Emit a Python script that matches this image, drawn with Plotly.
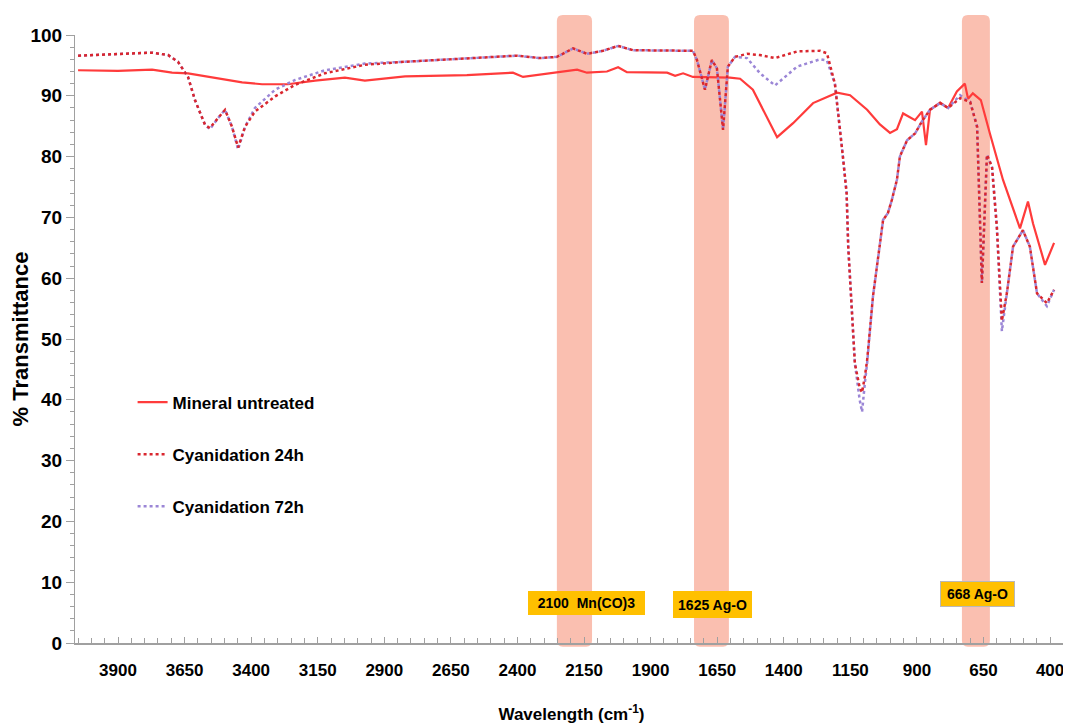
import plotly.graph_objects as go

# ---------------- data ----------------
wn_untreated = [4050, 3900, 3772, 3697, 3637, 3562, 3434, 3359, 3262, 3160, 3048, 2973, 2822, 2590,
                2417, 2379, 2342, 2267, 2176, 2139, 2064, 2022, 1989, 1838, 1808, 1778, 1741,
                1602, 1564, 1516, 1478, 1425, 1365, 1290, 1200, 1151, 1087, 1039, 1001, 975,
                952, 907, 881, 866, 851, 813, 783, 750, 720, 708, 690, 660, 626, 577, 513,
                483, 464, 419, 385]
t_untreated = [94.2, 94.1, 94.3, 93.8, 93.7, 93.1, 92.2, 91.9, 91.9, 92.5, 93.0, 92.5, 93.2, 93.4,
               93.8, 93.1, 93.3, 93.8, 94.3, 93.8, 94.0, 94.7, 93.9, 93.8, 93.3, 93.7, 93.1,
               93.0, 92.8, 91.0, 87.7, 83.2, 85.5, 88.8, 90.5, 90.1, 87.7, 85.3, 83.9, 84.5,
               87.1, 86.0, 87.4, 81.9, 87.7, 88.9, 88.0, 90.7, 92.0, 89.5, 90.4, 89.3, 83.8,
               76.2, 68.2, 72.6, 69.0, 62.2, 65.8]

wn_cyan24 = [4050, 3772, 3712, 3675, 3637, 3611, 3573, 3555, 3525, 3498, 3472, 3449, 3423, 3386,
             3310, 3235, 3123, 2973, 2822, 2590, 2402, 2315, 2252, 2191, 2139, 2079, 2022,
             1966, 1850, 1741, 1726, 1696, 1670, 1651, 1628, 1610, 1583, 1538, 1489, 1433,
             1350, 1264, 1238, 1208, 1178, 1164, 1158, 1145, 1133, 1115, 1106, 1095, 1087,
             1065, 1039, 1027, 1009, 994, 975, 964, 937, 907, 881, 851, 813, 783, 738, 700,
             674, 656, 637, 618, 600, 581, 562, 539, 502, 476, 449, 412, 385]
t_cyan24 = [96.6, 97.1, 96.7, 95.6, 93.1, 89.3, 85.2, 84.7, 86.3, 87.7, 84.9, 81.5, 84.9, 87.4,
            89.9, 91.8, 93.7, 95.1, 95.6, 96.2, 96.6, 96.2, 96.4, 97.8, 96.9, 97.4, 98.2,
            97.5, 97.4, 97.4, 95.9, 91.0, 95.9, 94.5, 84.4, 94.8, 96.4, 96.9, 96.7, 96.2,
            97.3, 97.4, 97.0, 92.0, 80.0, 74.0, 65.2, 54.3, 46.0, 42.0, 41.2, 44.0, 46.5,
            57.0, 65.2, 69.6, 70.7, 72.9, 76.2, 80.0, 82.7, 83.8, 85.8, 87.7, 88.8, 88.0,
            89.6, 89.0, 84.9, 59.2, 80.3, 78.3, 68.5, 53.0, 57.6, 65.2, 67.9, 65.2, 57.5,
            55.9, 58.1]

wn_cyan72 = [4050, 3772, 3712, 3675, 3637, 3611, 3573, 3555, 3525, 3498, 3472, 3449, 3423, 3386,
             3310, 3235, 3123, 2973, 2822, 2590, 2402, 2315, 2252, 2191, 2139, 2079, 2022,
             1966, 1850, 1741, 1726, 1696, 1670, 1651, 1628, 1610, 1583, 1538, 1489, 1433,
             1350, 1264, 1238, 1208, 1178, 1164, 1158, 1145, 1133, 1115, 1106, 1095, 1087,
             1065, 1039, 1027, 1009, 994, 975, 964, 937, 907, 881, 851, 813, 783, 738, 700,
             674, 656, 637, 618, 600, 581, 562, 539, 502, 476, 449, 412, 385]
t_cyan72 = [96.6, 97.1, 96.7, 95.6, 93.1, 89.3, 85.2, 84.5, 86.3, 87.7, 84.9, 81.2, 84.9, 88.0,
            91.0, 92.6, 94.2, 95.3, 95.6, 96.2, 96.6, 96.2, 96.4, 97.8, 96.9, 97.4, 98.2,
            97.5, 97.4, 97.4, 95.9, 91.0, 95.9, 94.5, 84.4, 94.8, 96.4, 96.2, 93.7, 91.7,
            94.8, 96.0, 95.8, 92.0, 80.0, 74.0, 65.2, 54.3, 46.0, 40.0, 38.0, 43.0, 46.0,
            57.0, 65.2, 69.6, 70.7, 72.9, 76.2, 80.0, 82.7, 83.8, 85.8, 87.7, 88.8, 88.0,
            90.1, 89.0, 84.9, 59.2, 80.3, 78.3, 68.5, 51.3, 57.6, 65.2, 67.9, 65.2, 57.5,
            55.4, 58.1]

series_names = ["Mineral untreated", "Cyanidation 24h", "Cyanidation 72h"]

band_ranges = [(2252, 2120), (1737, 1606), (731, 626)]
band_labels = ["2100\u00a0 Mn(CO)3", "1625 Ag-O", "668 Ag-O"]
label_x = [2139, 1666, 674]
label_y = [6.6, 6.4, 8.1]

x_ticks = [3900, 3650, 3400, 3150, 2900, 2650, 2400, 2150, 1900, 1650, 1400, 1150, 900, 650, 400]
y_ticks = [0, 10, 20, 30, 40, 50, 60, 70, 80, 90, 100]

# ---------------- figure ----------------
FONT = "Liberation Sans, Arial, sans-serif"

fig = go.Figure()
fig.add_trace(go.Scatter(x=wn_untreated, y=t_untreated, mode="lines",
                         name="<b>" + series_names[0] + "</b>", legendgroup="a", legendrank=1,
                         line=dict(color="#FF3B3B", width=2.2)))
fig.add_trace(go.Scatter(x=wn_cyan72, y=t_cyan72, mode="lines",
                         name="<b>" + series_names[2] + "</b>", legendgroup="c", legendrank=3,
                         line=dict(color="#9B86D6", width=2.5, dash="dot")))
fig.add_trace(go.Scatter(x=wn_cyan24, y=t_cyan24, mode="lines",
                         name="<b>" + series_names[1] + "</b>", legendgroup="b", legendrank=2,
                         line=dict(color="#D9262E", width=2.5, dash="dot")))

# salmon highlight bands (rounded rectangles)
rx, ry = 22, 0.010
yb, yt = -0.006, 1.033
for xl, xr in band_ranges:
    path = (f"M {xl},{yb+ry} L {xl},{yt-ry} Q {xl},{yt} {xl-rx},{yt} "
            f"L {xr+rx},{yt} Q {xr},{yt} {xr},{yt-ry} L {xr},{yb+ry} "
            f"Q {xr},{yb} {xr+rx},{yb} L {xl-rx},{yb} Q {xl},{yb} {xl},{yb+ry} Z")
    fig.add_shape(type="path", path=path, xref="x", yref="paper",
                  fillcolor="rgba(246,138,112,0.55)", line=dict(width=0), layer="below")

box_w = [117, 79, 73]
box_h = [24, 27, 24]
box_border = [0, 0, 1]
for txt, lx, ly, w, h, bw in zip(band_labels, label_x, label_y, box_w, box_h, box_border):
    fig.add_annotation(x=lx, y=ly, xref="x", yref="y", text="<b>" + txt + "</b>",
                       showarrow=False, bgcolor="#FFC000", bordercolor="#B8B8B8",
                       borderwidth=bw, borderpad=0, width=w, height=h,
                       font=dict(family=FONT, size=14, color="black"))

fig.update_layout(
    width=1063, height=719,
    margin=dict(l=67, r=3, t=27, b=84),
    paper_bgcolor="white", plot_bgcolor="white",
    font=dict(family=FONT, color="black"),
    showlegend=True,
    legend=dict(x=0.058, y=0.425, xanchor="left", yanchor="top",
                font=dict(family=FONT, size=17, color="black"),
                bgcolor="rgba(0,0,0,0)", tracegroupgap=27, traceorder="grouped",
                itemwidth=30),
)

fig.update_xaxes(
    range=[4061.5, 332.7], tickvals=x_ticks, ticktext=[str(v) for v in x_ticks],
    showgrid=False, zeroline=False, showline=True, linecolor="#A0A0A0", linewidth=2,
    ticks="inside", ticklen=6, tickcolor="#A0A0A0", tickwidth=1,
    minor=dict(dtick=50, tick0=400, ticks="inside", ticklen=5, tickcolor="#A0A0A0", tickwidth=1),
    tickfont=dict(family=FONT, size=17, color="black", weight="bold"),
    ticklabelstandoff=11,
    title=dict(text="<b>Wavelength (cm<sup>-1</sup>)</b>",
               font=dict(family=FONT, size=17, color="black"), standoff=29),
)
fig.update_yaxes(
    range=[0, 100], tickvals=y_ticks, ticktext=[str(v) for v in y_ticks],
    showgrid=False, zeroline=False, showline=True, linecolor="#A0A0A0", linewidth=1,
    ticks="outside", ticklen=8, tickcolor="#A0A0A0", tickwidth=1,
    minor=dict(dtick=2, ticks="outside", ticklen=4, tickcolor="#A0A0A0", tickwidth=1),
    tickfont=dict(family=FONT, size=19, color="black", weight="bold"),
    title=dict(text="<b>% Transmittance</b>",
               font=dict(family=FONT, size=22, color="black"), standoff=2),
)

fig.write_html("out.html")
